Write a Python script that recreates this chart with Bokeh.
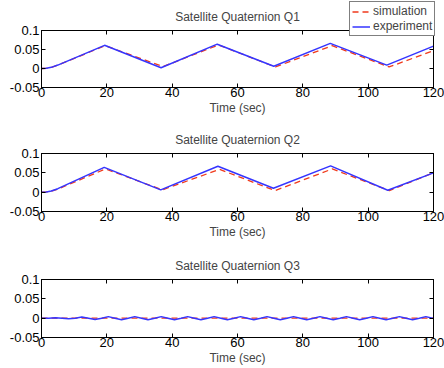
from bokeh.plotting import figure
from bokeh.layouts import column
from bokeh.models import (Range1d, FixedTicker, LinearAxis, Legend, LegendItem,
                          CustomJSTickFormatter, GridBox)
from bokeh.embed import file_html
from bokeh.resources import INLINE

# ---------------- data ----------------
x_ticks = [0, 20, 40, 60, 80, 100, 120]
y_ticks = [-0.05, 0, 0.05, 0.1]

titles = ["Satellite Quaternion Q1", "Satellite Quaternion Q2", "Satellite Quaternion Q3"]
x_label = "Time (sec)"
series_names = ["simulation", "experiment"]

# Q1
t1_sim = [0, 1.5, 3, 5, 19.5, 37.2, 54.2, 71.6, 89.0, 106.4, 120]
q1_sim = [0, 0.0005, 0.003, 0.009, 0.060, 0.005, 0.062, 0.004, 0.060, 0.004, 0.047]
t1_exp = [0, 1.5, 3, 5, 19.3, 36.6, 53.8, 71.1, 88.4, 105.7, 120]
q1_exp = [0, 0.0005, 0.003, 0.009, 0.061, 0.002, 0.064, 0.006, 0.066, 0.009, 0.059]

# Q2
t2_sim = [0, 1.5, 3, 5, 19.6, 37.0, 54.5, 71.5, 89.0, 106.5, 120]
q2_sim = [0, 0.0005, 0.0025, 0.008, 0.060, 0.006, 0.059, 0.004, 0.060, 0.004, 0.050]
t2_exp = [0, 1.5, 3, 5, 19.2, 36.5, 54.0, 71.0, 88.5, 106.0, 120]
q2_exp = [0, 0.0005, 0.003, 0.009, 0.064, 0.006, 0.067, 0.010, 0.068, 0.005, 0.050]

# Q3
t3_sim = [0, 120]
q3_sim = [0, 0]
t3_exp = [0, 2.2, 4.25, 6.3, 8.3, 10.3, 12.35, 14.4, 16.4, 18.45,
          20.45, 22.5, 24.5, 26.55, 28.55, 30.6, 32.6, 34.65, 36.65, 38.7,
          40.7, 42.75, 44.75, 46.8, 48.8, 50.85, 52.85, 54.9, 56.9, 58.95,
          60.95, 63.0, 65.0, 67.05, 69.05, 71.1, 73.1, 75.15, 77.15, 79.2,
          81.2, 83.25, 85.25, 87.3, 89.3, 91.35, 93.35, 95.4, 97.4, 99.45,
          101.45, 103.5, 105.5, 107.55, 109.55, 111.6, 113.6, 115.65, 117.65, 119.7,
          120]
q3_exp = [0, 0, 0.001, 0, -0.0015, 0, 0.003, 0, -0.0035, 0,
          0.004, 0, -0.004, 0, 0.004, 0, -0.004, 0, 0.004, 0,
          -0.004, 0, 0.004, 0, -0.004, 0, 0.004, 0, -0.004, 0,
          0.004, 0, -0.004, 0, 0.004, 0, -0.004, 0, 0.004, 0,
          -0.004, 0, 0.004, 0, -0.004, 0, 0.004, 0, -0.004, 0,
          0.004, 0, -0.004, 0, 0.004, 0, -0.004, 0, 0.004, 0,
          -0.0003]

FONT = "Liberation Sans"
SIM_COLOR = "#f03a1c"
EXP_COLOR = "#3535ff"
SIM_STYLE = dict(line_color=SIM_COLOR, line_width=1.3, line_dash="6 4")
EXP_STYLE = dict(line_color=EXP_COLOR, line_width=1.5)


def style_axis(ax, labels=True):
    ax.major_tick_in = 4
    ax.major_tick_out = 0
    ax.minor_tick_line_color = None
    ax.axis_line_color = "black"
    ax.major_tick_line_color = "black"
    ax.major_label_text_font = FONT
    if labels:
        ax.major_label_text_color = "black"
        ax.major_label_text_font_size = "13px"
    else:
        ax.major_label_text_color = None
        ax.major_label_text_font_size = "1px"
        ax.major_label_standoff = 0
        ax.formatter = CustomJSTickFormatter(code="return '';")


def make_fig(title, height, top, bottom, ts, vs, te, ve):
    p = figure(width=444, height=height,
               x_range=Range1d(0, 120), y_range=Range1d(-0.05, 0.1),
               output_backend="svg", toolbar_location=None,
               min_border_left=41, min_border_right=11,
               min_border_top=top, min_border_bottom=bottom)
    p.title.text = title
    p.title.text_font = FONT
    p.title.text_font_size = "12px"
    p.title.text_font_style = "normal"
    p.title.align = "center"
    p.title.standoff = 13
    p.grid.visible = False
    p.outline_line_color = "black"
    p.outline_line_alpha = 1
    p.background_fill_color = "white"
    p.border_fill_color = "white"

    xa = p.xaxis[0]
    xa.ticker = FixedTicker(ticks=x_ticks)
    style_axis(xa)
    xa.major_label_standoff = 0
    xa.axis_label = x_label
    xa.axis_label_text_font = FONT
    xa.axis_label_text_font_size = "12px"
    xa.axis_label_text_font_style = "normal"
    xa.axis_label_standoff = 1

    ya = p.yaxis[0]
    ya.ticker = FixedTicker(ticks=y_ticks)
    ya.formatter = CustomJSTickFormatter(code="return tick.toString();")
    style_axis(ya)
    ya.major_label_standoff = 2

    top_ax = LinearAxis(ticker=FixedTicker(ticks=x_ticks))
    style_axis(top_ax, labels=False)
    p.add_layout(top_ax, "above")
    right_ax = LinearAxis(ticker=FixedTicker(ticks=y_ticks))
    style_axis(right_ax, labels=False)
    p.add_layout(right_ax, "right")

    p.line(ts, vs, **SIM_STYLE)
    p.line(te, ve, **EXP_STYLE)
    return p


p1 = make_fig(titles[0], 123, 30, 36, t1_sim, q1_sim, t1_exp, q1_exp)
p2 = make_fig(titles[1], 122, 30, 34, t2_sim, q2_sim, t2_exp, q2_exp)
p3 = make_fig(titles[2], 123, 34, 31, t3_sim, q3_sim, t3_exp, q3_exp)
stack = column(p1, p2, p3, spacing=0)

# transparent overlay figure carrying only the legend (so it may overlap Q1's frame)
lf = figure(width=444, height=368, x_range=Range1d(0, 120), y_range=Range1d(-0.05, 0.1),
            output_backend="svg", toolbar_location=None,
            x_axis_type=None, y_axis_type=None,
            min_border_left=0, min_border_right=0, min_border_top=0, min_border_bottom=0)
lf.grid.visible = False
lf.outline_line_color = None
lf.background_fill_color = None
lf.border_fill_color = None
r_sim = lf.line(t1_sim, q1_sim, visible=False, **SIM_STYLE)
r_exp = lf.line(t1_exp, q1_exp, visible=False, **EXP_STYLE)
lg = Legend(items=[LegendItem(label=series_names[0], renderers=[r_sim]),
                   LegendItem(label=series_names[1], renderers=[r_exp])],
            location=(349, 332))
lg.label_text_font = FONT
lg.label_text_font_size = "12px"
lg.label_height = 13
lg.glyph_height = 13
lg.glyph_width = 18
lg.label_standoff = 3
lg.padding = 2
lg.spacing = 1
lg.margin = 0
lg.border_line_color = "black"
lg.border_line_width = 1
lg.background_fill_color = "white"
lg.background_fill_alpha = 1
lg.inactive_fill_alpha = 0
lf.add_layout(lg, "center")

layout = GridBox(children=[(stack, 0, 0), (lf, 0, 0)], spacing=0)
open("out.html", "w").write(file_html(layout, INLINE))
